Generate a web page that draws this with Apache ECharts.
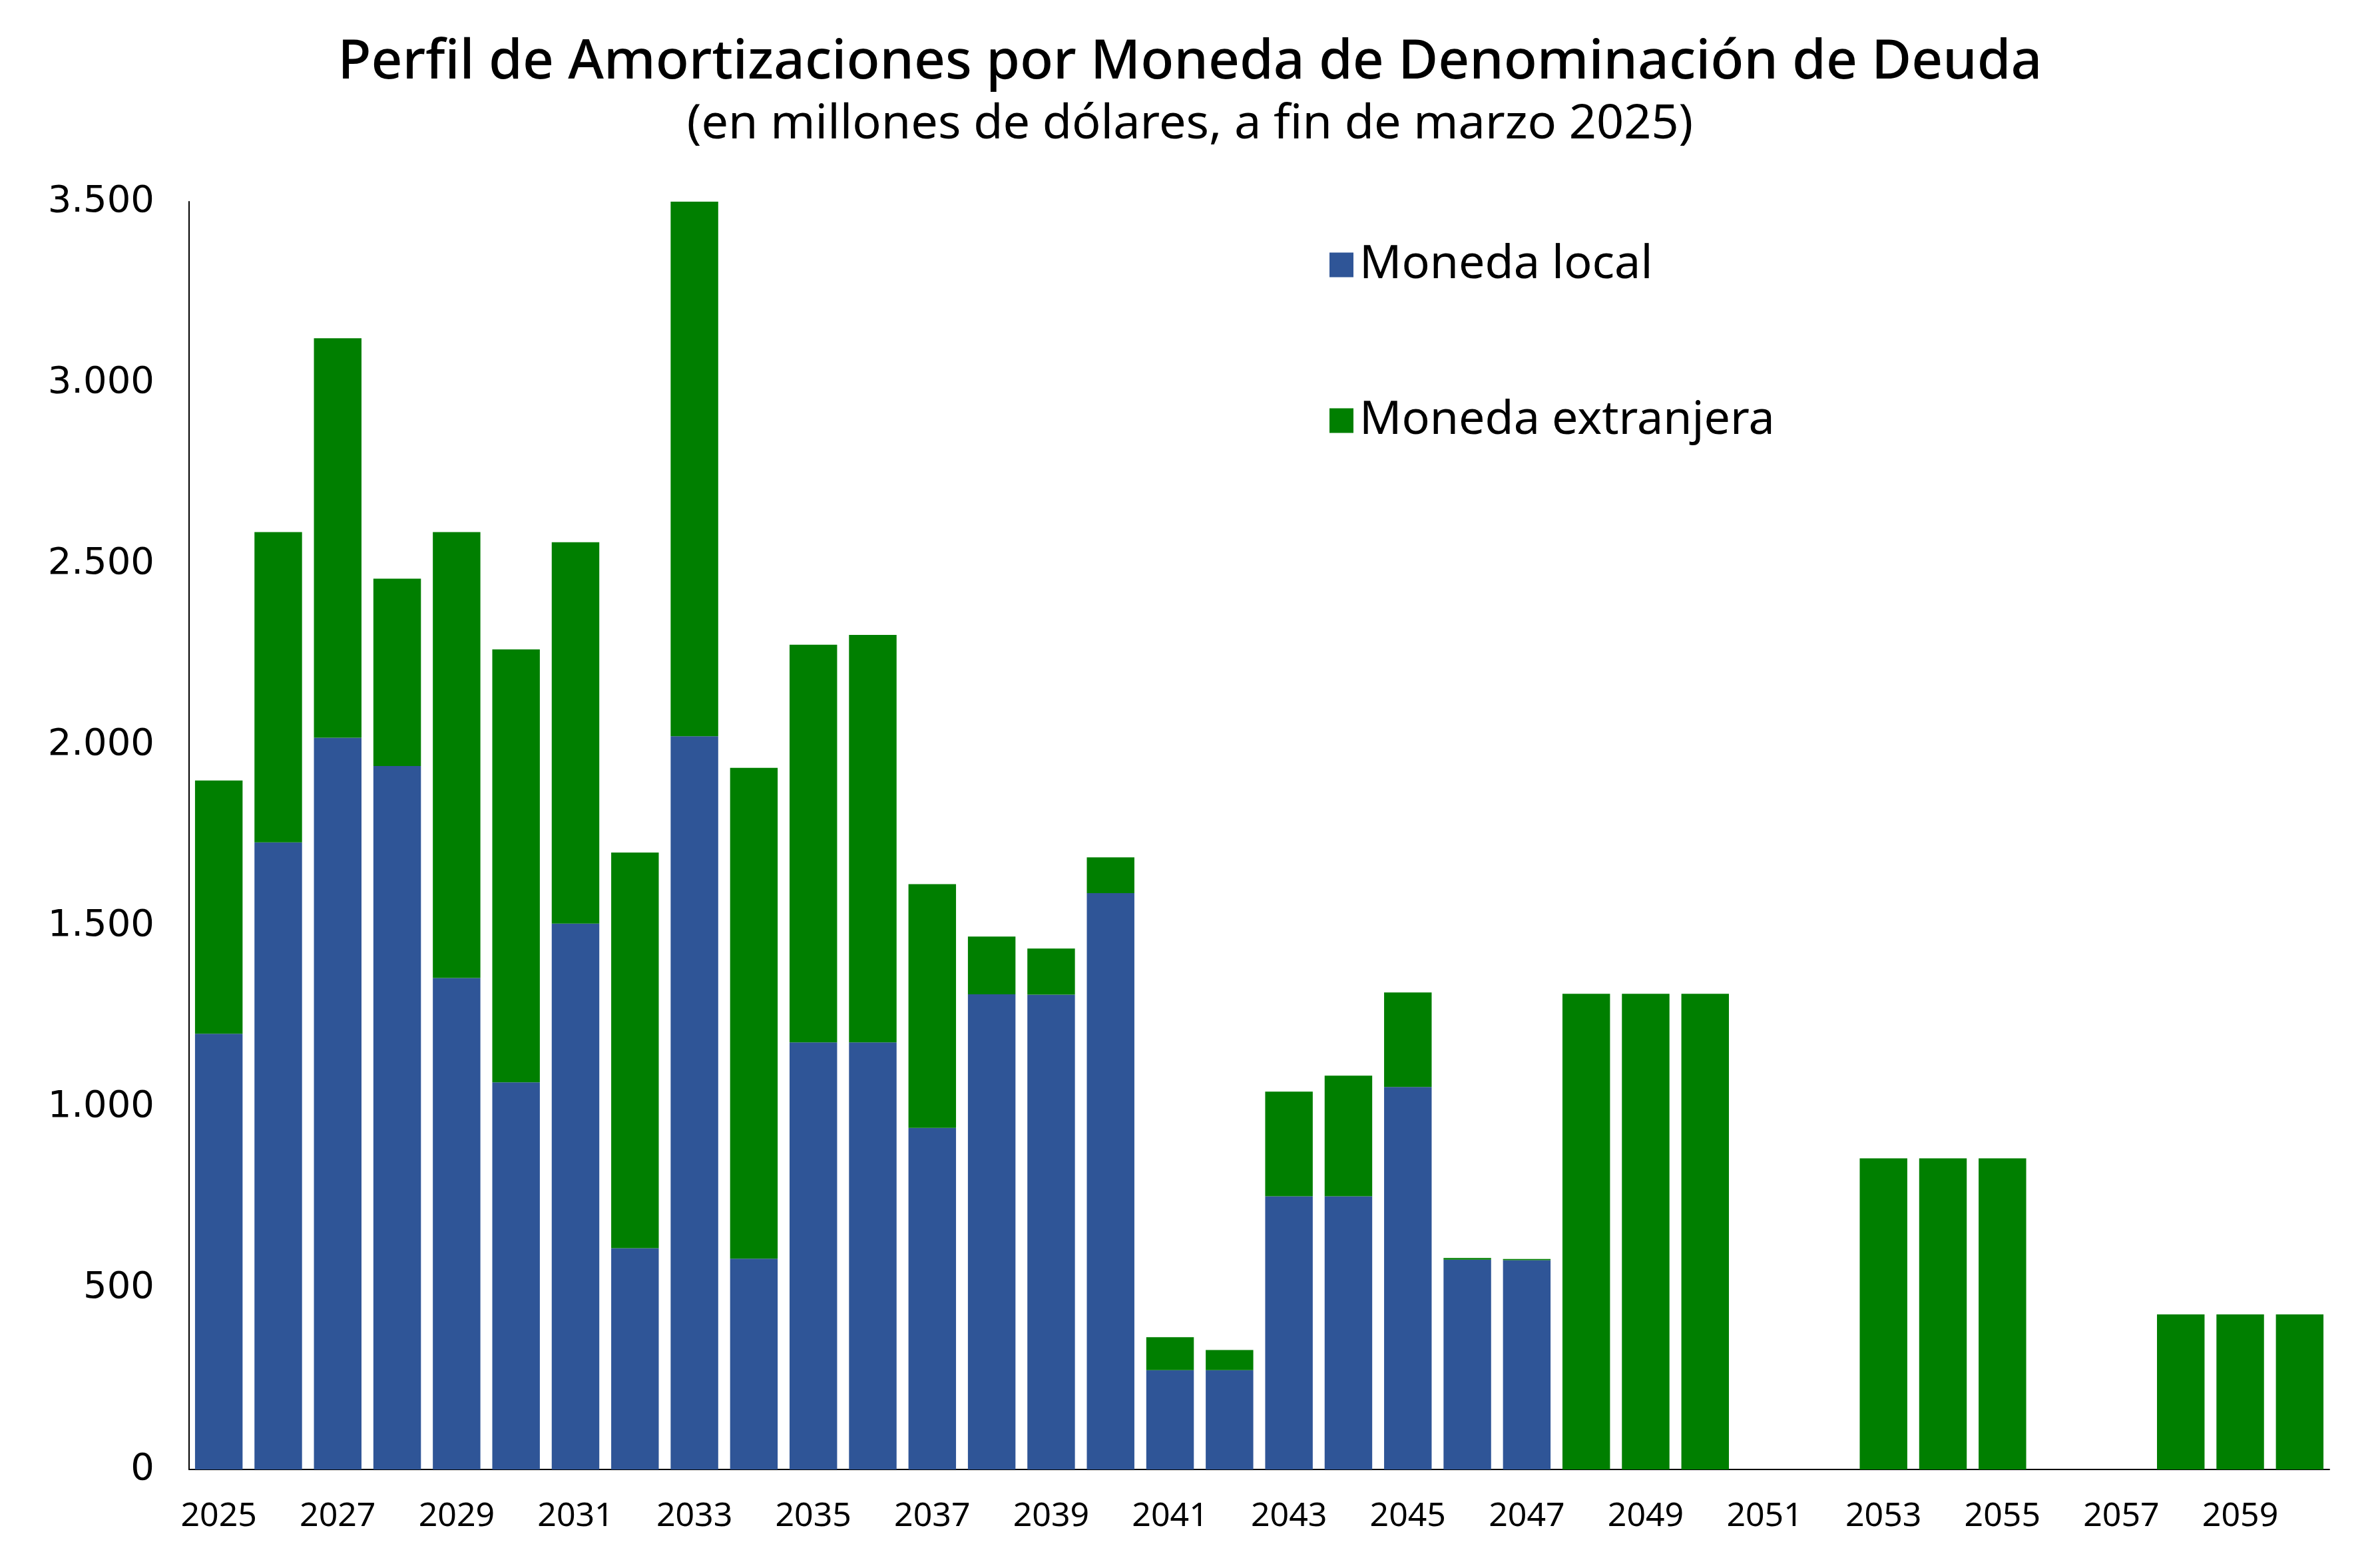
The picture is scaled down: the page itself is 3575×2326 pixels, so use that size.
<!DOCTYPE html>
<html>
<head>
<meta charset="utf-8">
<script src="https://cdn.jsdelivr.net/npm/echarts@6/dist/echarts.min.js"></script>
<style>
html,body{margin:0;padding:0;background:#fff;}
#chart{width:3575px;height:2326px;}
</style>
</head>
<body>
<div id="chart"></div>
<script>
const years = ['2025','2026','2027','2028','2029','2030','2031','2032','2033','2034','2035','2036','2037','2038','2039','2040','2041','2042','2043','2044','2045','2046','2047','2048','2049','2050','2051','2052','2053','2054','2055','2056','2057','2058','2059','2060'];
const monedaLocal = [1203,1731,2020,1942,1357,1069,1507,611,2024,582,1179,1179,943,1312,1311,1591,274,274,754,754,1056,579,578,0,0,0,0,0,0,0,0,0,0,0,0,0];
const monedaExtranjera = [699,857,1103,517,1231,1195,1053,1092,1476,1355,1098,1125,673,159,127,99,91,56,289,333,261,5,3,1313,1313,1313,0,0,859,859,859,0,0,428,428,428];
const yTicks = [0,500,1000,1500,2000,2500,3000,3500];

const chart = echarts.init(document.getElementById('chart'));
const fmt = v => String(v).replace(/\B(?=(\d{3})+(?!\d))/g, '.');
chart.setOption({
  backgroundColor: '#ffffff',
  animation: false,
  title: [
    {text: 'Perfil de Amortizaciones por Moneda de Denominación de Deuda', left: 'center', top: 46,
     textStyle: {fontFamily: 'Noto Sans', fontSize: 82, fontWeight: 500, color: '#000', lineHeight: 88}},
    {text: '(en millones de dólares, a fin de marzo 2025)', left: 'center', top: 142,
     textStyle: {fontFamily: 'Noto Sans', fontSize: 72, fontWeight: 'normal', color: '#000', lineHeight: 80}}
  ],
  legend: {
    orient: 'vertical', left: 1992, top: 353, itemWidth: 36, itemHeight: 37, itemGap: 154,
    icon: 'rect',
    textStyle: {fontFamily: 'Noto Sans', fontSize: 70, color: '#000', lineHeight: 80, padding: [0,0,0,4]},
    data: ['Moneda local', 'Moneda extranjera']
  },
  grid: {left: 284, right: 76, top: 303, bottom: 118, containLabel: false},
  xAxis: {
    type: 'category', data: years,
    axisLine: {show: true, lineStyle: {color: '#000', width: 2}},
    axisTick: {show: false},
    axisLabel: {interval: 1, fontFamily: 'Noto Sans', fontSize: 50, color: '#000', margin: 46}
  },
  yAxis: {
    type: 'value', min: yTicks[0], max: yTicks[yTicks.length-1], interval: 500,
    splitLine: {show: false},
    axisLine: {show: true, lineStyle: {color: '#000', width: 2}},
    axisTick: {show: false},
    axisLabel: {fontFamily: 'DejaVu Sans', fontSize: 56, color: '#000', margin: 52, formatter: fmt}
  },
  series: [
    {name: 'Moneda local', type: 'bar', stack: 'total', data: monedaLocal, barCategoryGap: '20%',
     itemStyle: {color: '#2F5597'}},
    {name: 'Moneda extranjera', type: 'bar', stack: 'total', data: monedaExtranjera, barCategoryGap: '20%',
     itemStyle: {color: '#007F00'}}
  ]
});
</script>
</body>
</html>
